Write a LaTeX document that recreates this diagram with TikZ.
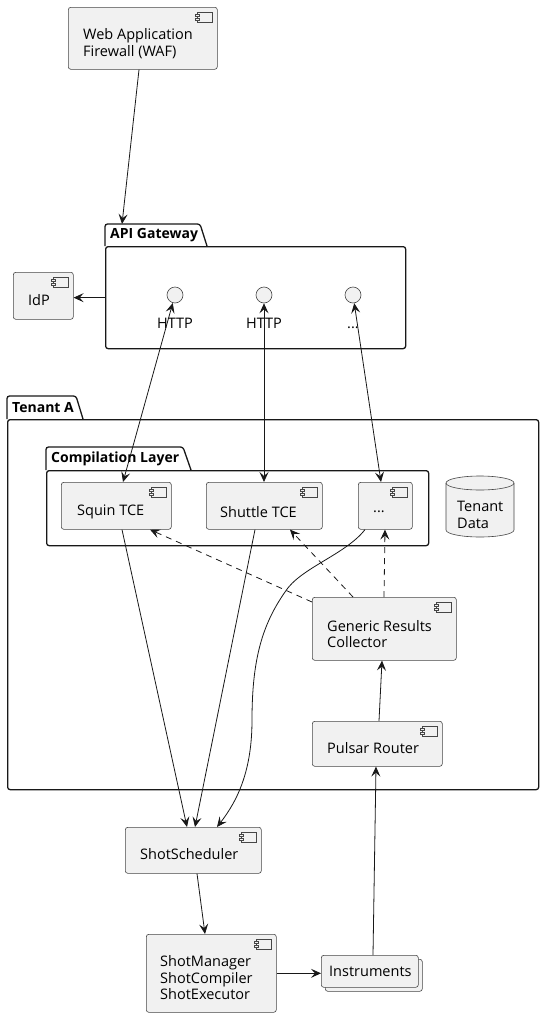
\documentclass[tikz,border=0pt]{standalone}
\usepackage{fontspec}
\setmainfont{Open Sans}
\usetikzlibrary{arrows.meta}
\definecolor{boxfill}{HTML}{F1F1F1}
\definecolor{boxline}{HTML}{181818}
\tikzset{
  comp/.style={draw=boxline!80, line width=0.6pt, fill=boxfill, rounded corners=2.5pt, inner sep=0pt, anchor=north west},
  pkgbody/.style={draw=boxline, line width=1.3pt, rounded corners=2.5pt, inner sep=0pt, anchor=north west},
  pkgtab/.style={draw=boxline, line width=1.3pt, rounded corners=2.5pt},
  lbl/.style={anchor=west, align=left, inner sep=0pt, font=\fontsize{14.5pt}{16.5pt}\selectfont},
  ttl/.style={anchor=west, inner sep=0pt, font=\fontsize{14pt}{16.5pt}\selectfont\bfseries},
  iface/.style={circle, draw=boxline!80, line width=0.6pt, fill=boxfill, minimum size=16pt, inner sep=0pt},
  arr/.style={draw=boxline, line width=0.8pt, -{Stealth[length=10pt,width=9pt,inset=4pt]}},
  darr/.style={draw=boxline, line width=0.8pt, <->, >={Stealth[length=10pt,width=9pt,inset=4pt]}},
  dasharr/.style={arr, dash pattern=on 6pt off 5pt},
  cicon/.pic={
    \draw[draw=boxline!80, line width=0.5pt, fill=boxfill] (-20,5) rectangle (-5,15);
    \draw[draw=boxline!80, line width=0.5pt, fill=boxfill] (-22,7) rectangle (-18,9);
    \draw[draw=boxline!80, line width=0.5pt, fill=boxfill] (-22,11) rectangle (-18,13);
  }
}
\begin{document}
\begin{tikzpicture}[x=1pt,y=-1pt]
\useasboundingbox (0,0) rectangle (543,1017);

% ---------- packages ----------
\node[pkgbody, minimum width=300pt, minimum height=102pt] (api) at (105,246) {};
\draw[pkgtab] (105,246) -- (105,224) -- (200,224) -- (207,246);
\coordinate (apitab) at (122,224);
\node[ttl] (t_api) at (110,235) {API Gateway};

\node[pkgbody, minimum width=531pt, minimum height=370pt] (tenant) at (7,419) {};
\draw[pkgtab] (7,419) -- (7,396) -- (76,396) -- (83,419);
\node[ttl] (t_tenant) at (12,408) {Tenant A};

\node[pkgbody, minimum width=382pt, minimum height=75pt] (complayer) at (46,470) {};
\draw[pkgtab] (46,470) -- (46,447) -- (183,447) -- (191,470);
\node[ttl] (t_comp) at (51,459) {Compilation Layer};

% ---------- components ----------
\node[comp, minimum width=149pt, minimum height=62pt] (waf) at (68,7) {};
\pic at (waf.north east) {cicon};
\node[lbl] (t_waf) at (83,43.5) {Web Application\\Firewall (WAF)};

\node[comp, minimum width=60pt, minimum height=47pt] (idp) at (13,272) {};
\pic at (idp.north east) {cicon};
\node[lbl] (t_idp) at (28,300) {IdP};

\node[comp, minimum width=110pt, minimum height=47pt] (squin) at (61,482) {};
\pic at (squin.north east) {cicon};
\node[lbl] (t_squin) at (77,512) {Squin TCE};

\node[comp, minimum width=116pt, minimum height=47pt] (shuttle) at (206,482) {};
\pic at (shuttle.north east) {cicon};
\node[lbl] (t_shuttle) at (220,512) {Shuttle TCE};

\node[comp, minimum width=54pt, minimum height=47pt] (dots) at (358,482) {};
\pic at (dots.north east) {cicon};
\node[lbl] (t_dots) at (373,512) {...};

\node[comp, minimum width=144pt, minimum height=63pt] (grc) at (312,597) {};
\pic at (grc.north east) {cicon};
\node[lbl] (t_grc) at (327,634) {Generic Results\\Collector};

\node[comp, minimum width=130pt, minimum height=45pt] (pulsar) at (312,721) {};
\pic at (pulsar.north east) {cicon};
\node[lbl] (t_pulsar) at (327,748) {Pulsar Router};

\node[comp, minimum width=136pt, minimum height=46pt] (sched) at (125,827) {};
\pic at (sched.north east) {cicon};
\node[lbl] (t_sched) at (140,854) {ShotScheduler};

\node[comp, minimum width=130pt, minimum height=78pt] (mgr) at (146,934) {};
\pic at (mgr.north east) {cicon};
\node[lbl] (t_mgr) at (160,978) {ShotManager\\ShotCompiler\\ShotExecutor};

\node[comp, minimum width=97pt, minimum height=32pt] (instrback) at (325,959) {};
\node[comp, minimum width=97pt, minimum height=32pt] (instr) at (321,955) {};
\node[lbl] (t_instr) at (329,971) {Instruments};

% database
\draw[draw=boxline!80, line width=0.6pt, fill=boxfill]
  (446,483) -- (446,530) arc[start angle=180, end angle=0, x radius=34, y radius=7]
  -- (514,483) arc[start angle=0, end angle=-180, x radius=34, y radius=7] -- cycle;
\draw[draw=boxline!80, line width=0.6pt] (446,483) arc[start angle=180, end angle=0, x radius=34, y radius=7];
\node[lbl] (t_data) at (457,515) {Tenant\\Data};

% interfaces
\node[iface] (h1) at (175,295) {};
\node[iface] (h2) at (264,295) {};
\node[iface] (h3) at (353,295) {};
\node[anchor=base, inner sep=0pt, font=\fontsize{14.5pt}{16.5pt}\selectfont] (t_h1) at (175,328) {HTTP};
\node[anchor=base, inner sep=0pt, font=\fontsize{14.5pt}{16.5pt}\selectfont] (t_h2) at (264,328) {HTTP};
\node[anchor=base, inner sep=0pt, font=\fontsize{14.5pt}{16.5pt}\selectfont] (t_h3) at (353,328) {...};

% ---------- connectors ----------
\draw[arr] ([xshift=71pt]waf.south west) -- (apitab);
\draw[arr] (api.west) -- (api.west -| idp.east);

\draw[darr] (h1) -- ([xshift=62pt]squin.north west);
\draw[darr] (h2) -- ([xshift=58pt]shuttle.north west);
\draw[darr] (h3) -- ([xshift=23pt]dots.north west);

\draw[arr] ([xshift=61pt]squin.south west) -- ([xshift=62pt]sched.north west);
\draw[arr] ([xshift=49pt]shuttle.south west) -- ([xshift=70pt]sched.north west);
\draw[arr] ([xshift=7pt]dots.south west) .. controls (345,555) and (300,568) .. (285,592)
  .. controls (262,625) and (252,660) .. (252,720)
  .. controls (252,770) and (238,800) .. ([xshift=92pt]sched.north west);

\draw[dasharr] ([yshift=-5pt]grc.north west) -- ([xshift=89pt]squin.south west);
\draw[dasharr] ([xshift=41pt]grc.north west) -- ([xshift=84pt]shuttle.south west);
\draw[dasharr] ([xshift=72pt]grc.north west) -- ([xshift=27pt]dots.south west);

\draw[arr] ([xshift=67pt]pulsar.north west) -- ([xshift=70pt]grc.south west);
\draw[arr] ([xshift=52pt]instr.north west) -- ([xshift=64pt]pulsar.south west);
\draw[arr] ([xshift=72pt]sched.south west) -- ([xshift=59pt]mgr.north west);
\draw[arr] (mgr.east) -- (mgr.east -| instr.west);
\end{tikzpicture}
\end{document}
